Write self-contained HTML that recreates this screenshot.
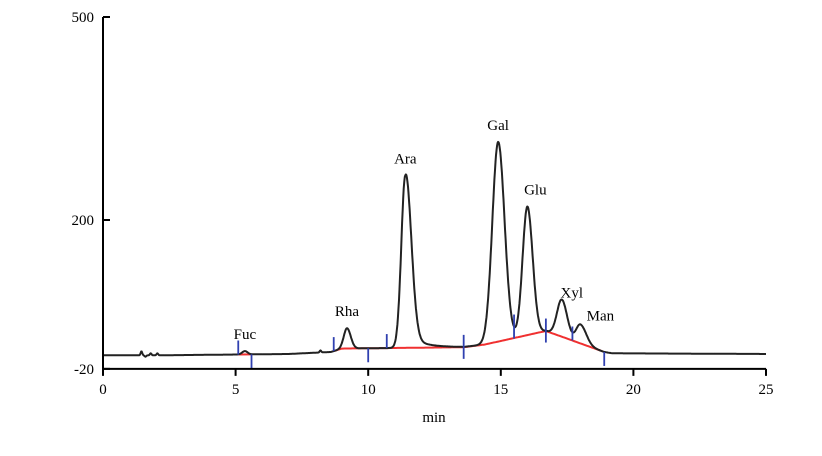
<!DOCTYPE html>
<html><head><meta charset="utf-8"><style>
body{margin:0;background:#fff;}
svg text{font-family:"Liberation Serif",serif;font-size:15px;fill:#000;}
</style></head><body>
<svg id="chart" width="822" height="451" xmlns="http://www.w3.org/2000/svg"></svg>
<script>
const xTicks=[0,5,10,15,20,25];
const yTicks=[500,200,-20];
const peakNames=["Fuc","Rha","Ara","Gal","Glu","Xyl","Man"];
const peakTimes=[5.35,9.2,11.4,14.9,16.0,17.3,18.0];
const peakHeights=[5,30,255,295,190,55,28];
const baseTimes=[0,2,7,8.6,9.0,13.6,14.4,16.7,18.9,19.2,25];
const baseValues=[0,0,2,5,10,12,16,36,5,3,2];
const markerTimes=[5.1,5.6,8.7,10.0,10.7,13.6,15.5,16.7,17.7,18.9];
const markerSide=[1,-1,1,-1,1,0,0,0,1,-1];
const noiseTimes=[1.45,1.6,1.8,2.05,5.3,6.9,8.2];
const noiseValues=[6,-2,3,3,0,0,3];

const X0=103,X1=766,Y500=17,Y200=220;
const sx=t=>X0+(t-0)*(X1-X0)/25;
const sy=v=>Y200-(v-200)*(Y200-Y500)/300;
const svg=document.getElementById('chart');
const NS="http://www.w3.org/2000/svg";
function mk(tag,attrs){const e=document.createElementNS(NS,tag);for(const k in attrs)e.setAttribute(k,attrs[k]);svg.appendChild(e);return e;}
function base(t){for(let i=0;i<baseTimes.length-1;i++){if(t>=baseTimes[i]&&t<=baseTimes[i+1]){const f=(t-baseTimes[i])/(baseTimes[i+1]-baseTimes[i]);return baseValues[i]+f*(baseValues[i+1]-baseValues[i]);}}return baseValues[baseValues.length-1];}
const sigL=[0.1,0.12,0.15,0.22,0.18,0.18,0.16];
const sigR=[0.1,0.14,0.22,0.24,0.2,0.2,0.22];
function sig(t){let v=base(t);for(let i=0;i<peakTimes.length;i++){const d=t-peakTimes[i];const s=d<0?sigL[i]:sigR[i];v+=peakHeights[i]*Math.exp(-d*d/(2*s*s));}
 // Ara tail
 if(t>peakTimes[2])v+=20*Math.exp(-(t-peakTimes[2])/0.6)*(1-Math.exp(-(t-peakTimes[2])/0.15));
 for(let i=0;i<noiseTimes.length;i++){const d=t-noiseTimes[i];v+=noiseValues[i]*Math.exp(-d*d/(2*0.03*0.03));}
 return v;}
// red baseline
let rb="";for(let t=8.7;t<=18.9;t+=0.05)rb+=(rb?"L":"M")+sx(t).toFixed(1)+","+sy(base(t)).toFixed(1);
let r=mk('path',{d:rb,stroke:"#f03030","stroke-width":2,fill:"none"});

let r2=mk('line',{x1:sx(5.1),y1:sy(base(5.1)),x2:sx(5.6),y2:sy(base(5.6)),stroke:"#f03030","stroke-width":2});

// cyan drop lines
[15.5,17.7].forEach(t=>{const l=mk('line',{x1:sx(t),y1:sy(base(t)),x2:sx(t),y2:sy(sig(t)),stroke:"#40c8d0","stroke-width":1.5});
});
// signal
let d="";for(let t=0;t<=25;t+=0.02)d+=(d?"L":"M")+sx(t).toFixed(1)+","+sy(sig(t)).toFixed(1);
let p=mk('path',{d:d,stroke:"#222","stroke-width":2,fill:"none","stroke-linejoin":"round"});

// markers
markerTimes.forEach((t,i)=>{const y=markerSide[i]===0?sy(sig(t)):sy(base(t));const y1=markerSide[i]===1?y-14:(markerSide[i]===-1?y:y-12);const y2=markerSide[i]===1?y:(markerSide[i]===-1?y+14:y+12);
const l=mk('line',{x1:sx(t),y1:y1,x2:sx(t),y2:y2,stroke:"#3040b0","stroke-width":1.8});
});
// peak labels
const lblOff=[[0,-12],[0,-12],[0,-12],[0,-12],[8,-12],[10,-2],[20,-4]];
peakNames.forEach((n,i)=>{const t=peakTimes[i];const tx=mk('text',{x:sx(t)+lblOff[i][0],y:sy(sig(t))+lblOff[i][1],"text-anchor":"middle"});tx.textContent=n;
});
// axes
let ax=mk('line',{x1:X0,y1:sy(-20),x2:X1,y2:sy(-20),stroke:"#000","stroke-width":2});

let ay=mk('line',{x1:X0,y1:Y500,x2:X0,y2:sy(-20)+1,stroke:"#000","stroke-width":2});

xTicks.forEach(v=>{const l=mk('line',{x1:sx(v),y1:sy(-20),x2:sx(v),y2:sy(-20)+7,stroke:"#000","stroke-width":2});

const t=mk('text',{x:sx(v),y:sy(-20)+25,"text-anchor":"middle"});t.textContent=v;
});
yTicks.forEach(v=>{const l=mk('line',{x1:X0,y1:sy(v),x2:X0+7,y2:sy(v),stroke:"#000","stroke-width":2});

const t=mk('text',{x:X0-9,y:sy(v)+5,"text-anchor":"end"});t.textContent=v;
});
let xt=mk('text',{x:434,y:422,"text-anchor":"middle"});xt.textContent="min";

</script>
</body></html>
